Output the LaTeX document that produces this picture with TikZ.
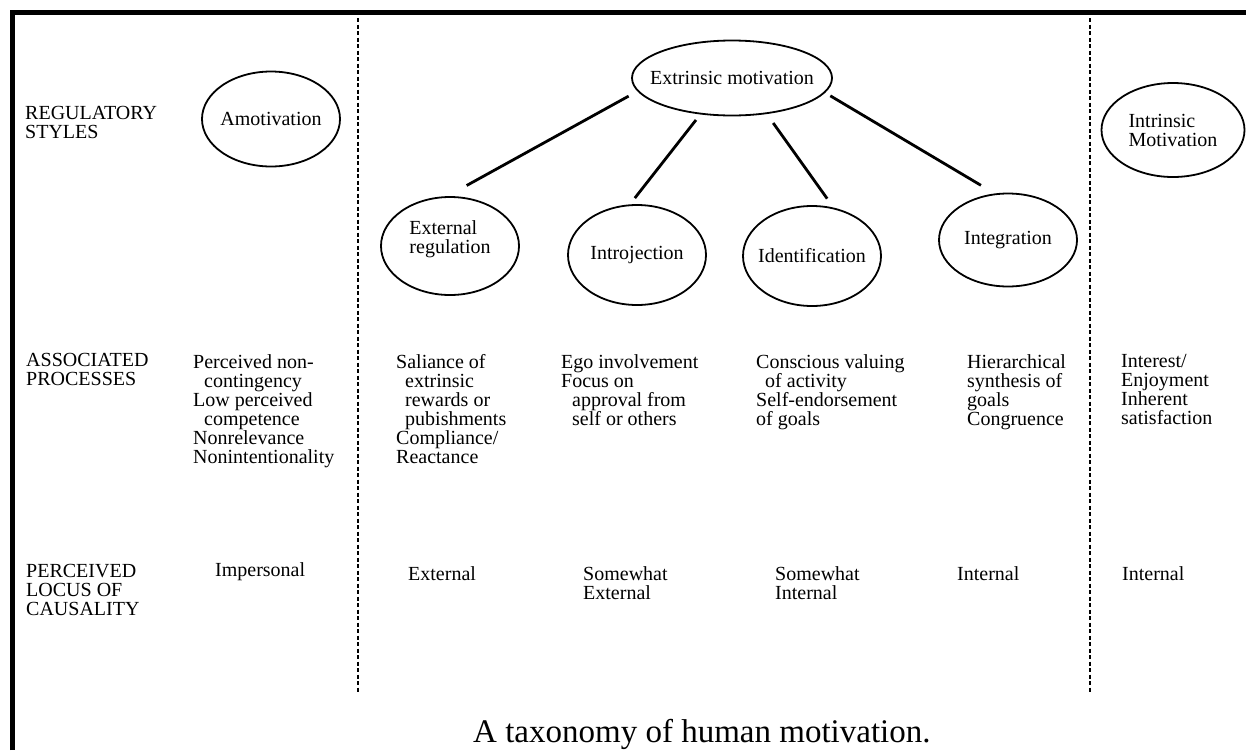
\documentclass[tikz,border=0pt]{standalone}
\usepackage{fontspec}
\setmainfont{Liberation Serif}
\usepackage{tikz}
\usetikzlibrary{shapes.geometric}
\tikzstyle{bulle} = [ellipse, draw=black, line width=1.8pt, inner sep=-20pt, minimum width=138pt, minimum height=98pt, align=left]
\tikzstyle{texte} = [anchor=north west, inner sep=0pt, align=left]
\tikzstyle{branche} = [line width=2.8pt]
\tikzstyle{separation} = [line width=1.6pt, dash pattern=on 4pt off 2.5pt]

\begin{document}
\begin{tikzpicture}[x=1pt, y=-1pt, every node/.style={font=\fontsize{20}{19}\selectfont}]

        \useasboundingbox (0,0) rectangle (1246,750);
        \draw[line width=5pt] (12,750) -- (12,12.5) -- (1246,12.5);

        \coordinate (sepgauchehaut) at (358,18);
        \coordinate (sepgauchebas) at (358,692);
        \coordinate (sepdroitehaut) at (1090,18);
        \coordinate (sepdroitebas) at (1090,692);
        \draw[separation] (sepgauchehaut) -- (sepgauchebas);
        \draw[separation] (sepdroitehaut) -- (sepdroitebas);

        \node (styles) [texte] at (25,106) {REGULATORY\\STYLES};
        \node (processus) [texte] at (26,353) {ASSOCIATED\\PROCESSES};
        \node (locus) [texte] at (26,564) {PERCEIVED\\LOCUS OF\\CAUSALITY};

        \node (amotivation) [bulle, minimum height=95pt] at (271,119) {Amotivation};
        \node (extrinseque) [bulle, minimum width=200pt, minimum height=75pt] at (732,78) {Extrinsic motivation};
        \node (intrinseque) [bulle, minimum width=143pt, minimum height=94pt] at (1173,130) {Intrinsic\\Motivation};

        \node (externe) [bulle] at (450,246) {External\\regulation\rule[-18pt]{0pt}{0pt}};
        \node (introjection) [bulle, minimum height=100pt] at (637,255) {Introjection};
        \node (identification) [bulle, minimum height=100pt] at (812,256) {Identification};
        \node (integration) [bulle, minimum height=93pt] at (1008,240) {Integration};

        \draw[branche, shorten <=10pt, shorten >=22pt] (extrinseque.188) -- (externe.93);
        \draw[branche, shorten <=7pt, shorten >=8pt] (extrinseque.229) -- (introjection.98);
        \draw[branche, shorten <=11pt, shorten >=11pt] (extrinseque.314) -- (identification.66);
        \draw[branche, shorten <=6pt, shorten >=16pt] (extrinseque.351) -- (integration.106);

        \node (procamotiv) [texte] at (193,354) {Perceived non-\\\hspace*{11pt}contingency\\Low perceived\\\hspace*{11pt}competence\\Nonrelevance\\Nonintentionality};
        \node (procexterne) [texte] at (396,354) {Saliance of\\\hspace*{9pt}extrinsic\\\hspace*{9pt}rewards or\\\hspace*{9pt}pubishments\\Compliance/\\Reactance};
        \node (procintroj) [texte] at (561,354) {Ego involvement\\Focus on\\\hspace*{11pt}approval from\\\hspace*{11pt}self or others};
        \node (procident) [texte] at (756,354) {Conscious valuing\\\hspace*{9pt}of activity\\Self-endorsement\\of goals};
        \node (procinteg) [texte] at (967,354) {Hierarchical\\synthesis of\\goals\\Congruence};
        \node (procintrin) [texte] at (1121,354) {Interest/\\Enjoyment\\Inherent\\satisfaction};

        \node (locamotiv) [texte] at (215,562) {Impersonal};
        \node (locexterne) [texte] at (408,566) {External};
        \node (locintroj) [texte] at (583,566) {Somewhat\\External};
        \node (locident) [texte] at (775,566) {Somewhat\\Internal};
        \node (locinteg) [texte] at (957,566) {Internal};
        \node (locintrin) [texte] at (1122,566) {Internal};

        \node (legende) [anchor=base west, inner sep=0pt, font=\fontsize{33}{33}\selectfont] at (473,742) {A taxonomy of human motivation.};

    \end{tikzpicture}
\end{document}
